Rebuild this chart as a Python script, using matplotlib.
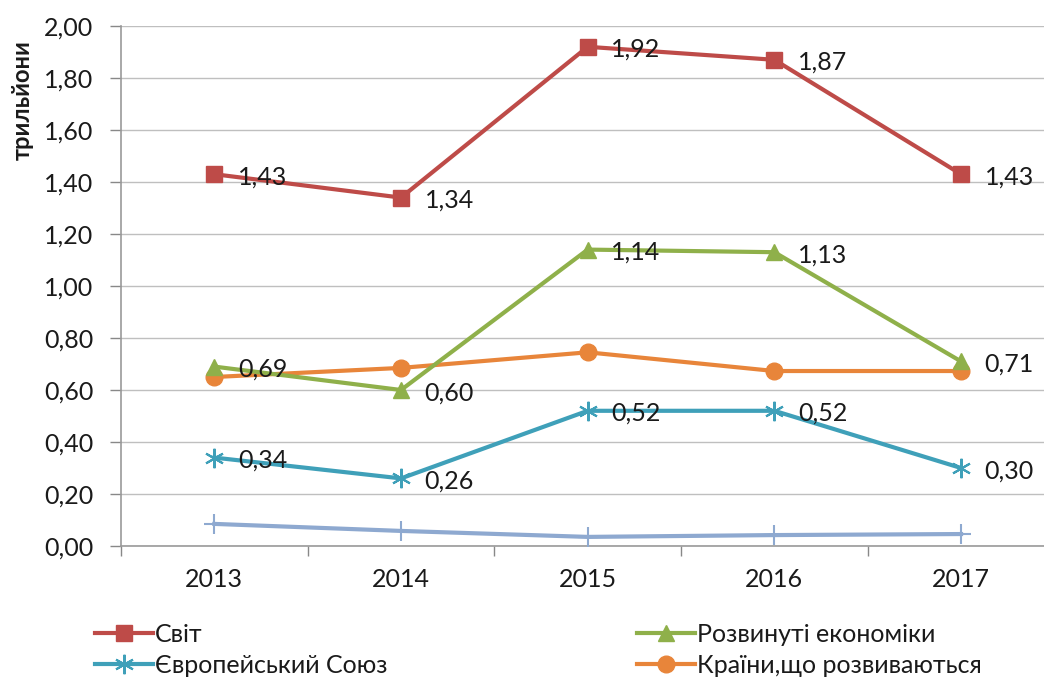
import matplotlib
matplotlib.use("Agg")
import matplotlib.pyplot as plt
from matplotlib.lines import Line2D

years = ["2013", "2014", "2015", "2016", "2017"]
world = [1.43, 1.34, 1.92, 1.87, 1.43]
developed = [0.69, 0.60, 1.14, 1.13, 0.71]
eu = [0.34, 0.26, 0.52, 0.52, 0.30]
developing = [0.65, 0.685, 0.745, 0.673, 0.673]
other = [0.085, 0.058, 0.035, 0.042, 0.046]

names = ["Світ", "Розвинуті економіки", "Європейський Союз", "Країни,що розвиваються"]
y_ticks = [0.0, 0.2, 0.4, 0.6, 0.8, 1.0, 1.2, 1.4, 1.6, 1.8, 2.0]
y_label = "трильйони"

plt.rcParams['font.family'] = ['Lato', 'Noto Sans', 'DejaVu Sans']

c_world = "#BE4B48"
c_dev = "#8FB04A"
c_eu = "#3FA0B9"
c_devg = "#E8853A"
c_oth = "#8EA9D0"
txt = '#1a1a1a'
fs = 18

fig = plt.figure(figsize=(10.44, 6.77), dpi=100)
ax = fig.add_axes([121/1044, 1-546/677, 1-121/1044, (546-26)/677])

x = list(range(len(years)))
lw = 3.0
ax.plot(x, other, color=c_oth, lw=lw, marker='+', ms=15, mew=1.5, zorder=3)
ax.plot(x, eu, color=c_eu, lw=lw, marker=(6, 2, 0), ms=14, mew=1.5, zorder=4)
ax.plot(x, developing, color=c_devg, lw=lw, marker='o', ms=12, zorder=4)
ax.plot(x, developed, color=c_dev, lw=lw, marker='^', ms=12, zorder=5)
ax.plot(x, world, color=c_world, lw=lw, marker='s', ms=11, zorder=5)

def fmt(v):
    return f"{v:.2f}".replace(".", ",")

for series in (world, developed, eu):
    for xi, v in zip(x, series):
        ax.annotate(fmt(v), (xi, v), xytext=(17, -2), textcoords='offset points',
                    ha='left', va='center', fontsize=fs, color=txt, zorder=6)

ax.set_yticks(y_ticks)
ax.set_yticklabels([fmt(v) for v in y_ticks], fontsize=fs, color=txt)
ax.set_xticks(x)
ax.set_xticklabels(years, fontsize=fs, color=txt)
ax.tick_params(axis='x', which='major', length=0, pad=16)
ax.set_xticks([i + 0.5 for i in range(-1, 5)], minor=True)
ax.tick_params(axis='x', which='minor', length=7, color='#888888', width=1)
ax.tick_params(axis='y', length=8, color='#888888', width=1, pad=12)
ax.set_ylim(0, 2.0)
ax.set_xlim(-0.5, (1044-214)/186.75)
ax.grid(axis='y', color='#BFBFBF', lw=1)
ax.set_axisbelow(True)
for s in ('top', 'right'):
    ax.spines[s].set_visible(False)
for s in ('left', 'bottom'):
    ax.spines[s].set_color('#9a9a9a')
    ax.spines[s].set_linewidth(1.2)

fig.text(22/1044, 1-100/677, y_label, rotation=90, fontsize=17, fontweight='bold',
         ha='center', va='center', color=txt)

h_world = Line2D([], [], color=c_world, lw=lw, marker='s', ms=11)
h_dev = Line2D([], [], color=c_dev, lw=lw, marker='^', ms=12)
h_eu = Line2D([], [], color=c_eu, lw=lw, marker=(6, 2, 0), ms=14, mew=1.5)
h_devg = Line2D([], [], color=c_devg, lw=lw, marker='o', ms=12)

common = dict(frameon=False, fontsize=fs, handlelength=2.3, handletextpad=0.1,
              labelspacing=0.32, borderaxespad=0, borderpad=0)
leg1 = fig.legend([h_world, h_eu], [names[0], names[2]], loc='upper left',
                  bbox_to_anchor=(95/1044, 1-623/677), **common)
leg2 = fig.legend([h_dev, h_devg], [names[1], names[3]], loc='upper left',
                  bbox_to_anchor=(637/1044, 1-623/677), **common)
for leg in (leg1, leg2):
    for t in leg.get_texts():
        t.set_color(txt)

fig.savefig("out.png", dpi=100)
